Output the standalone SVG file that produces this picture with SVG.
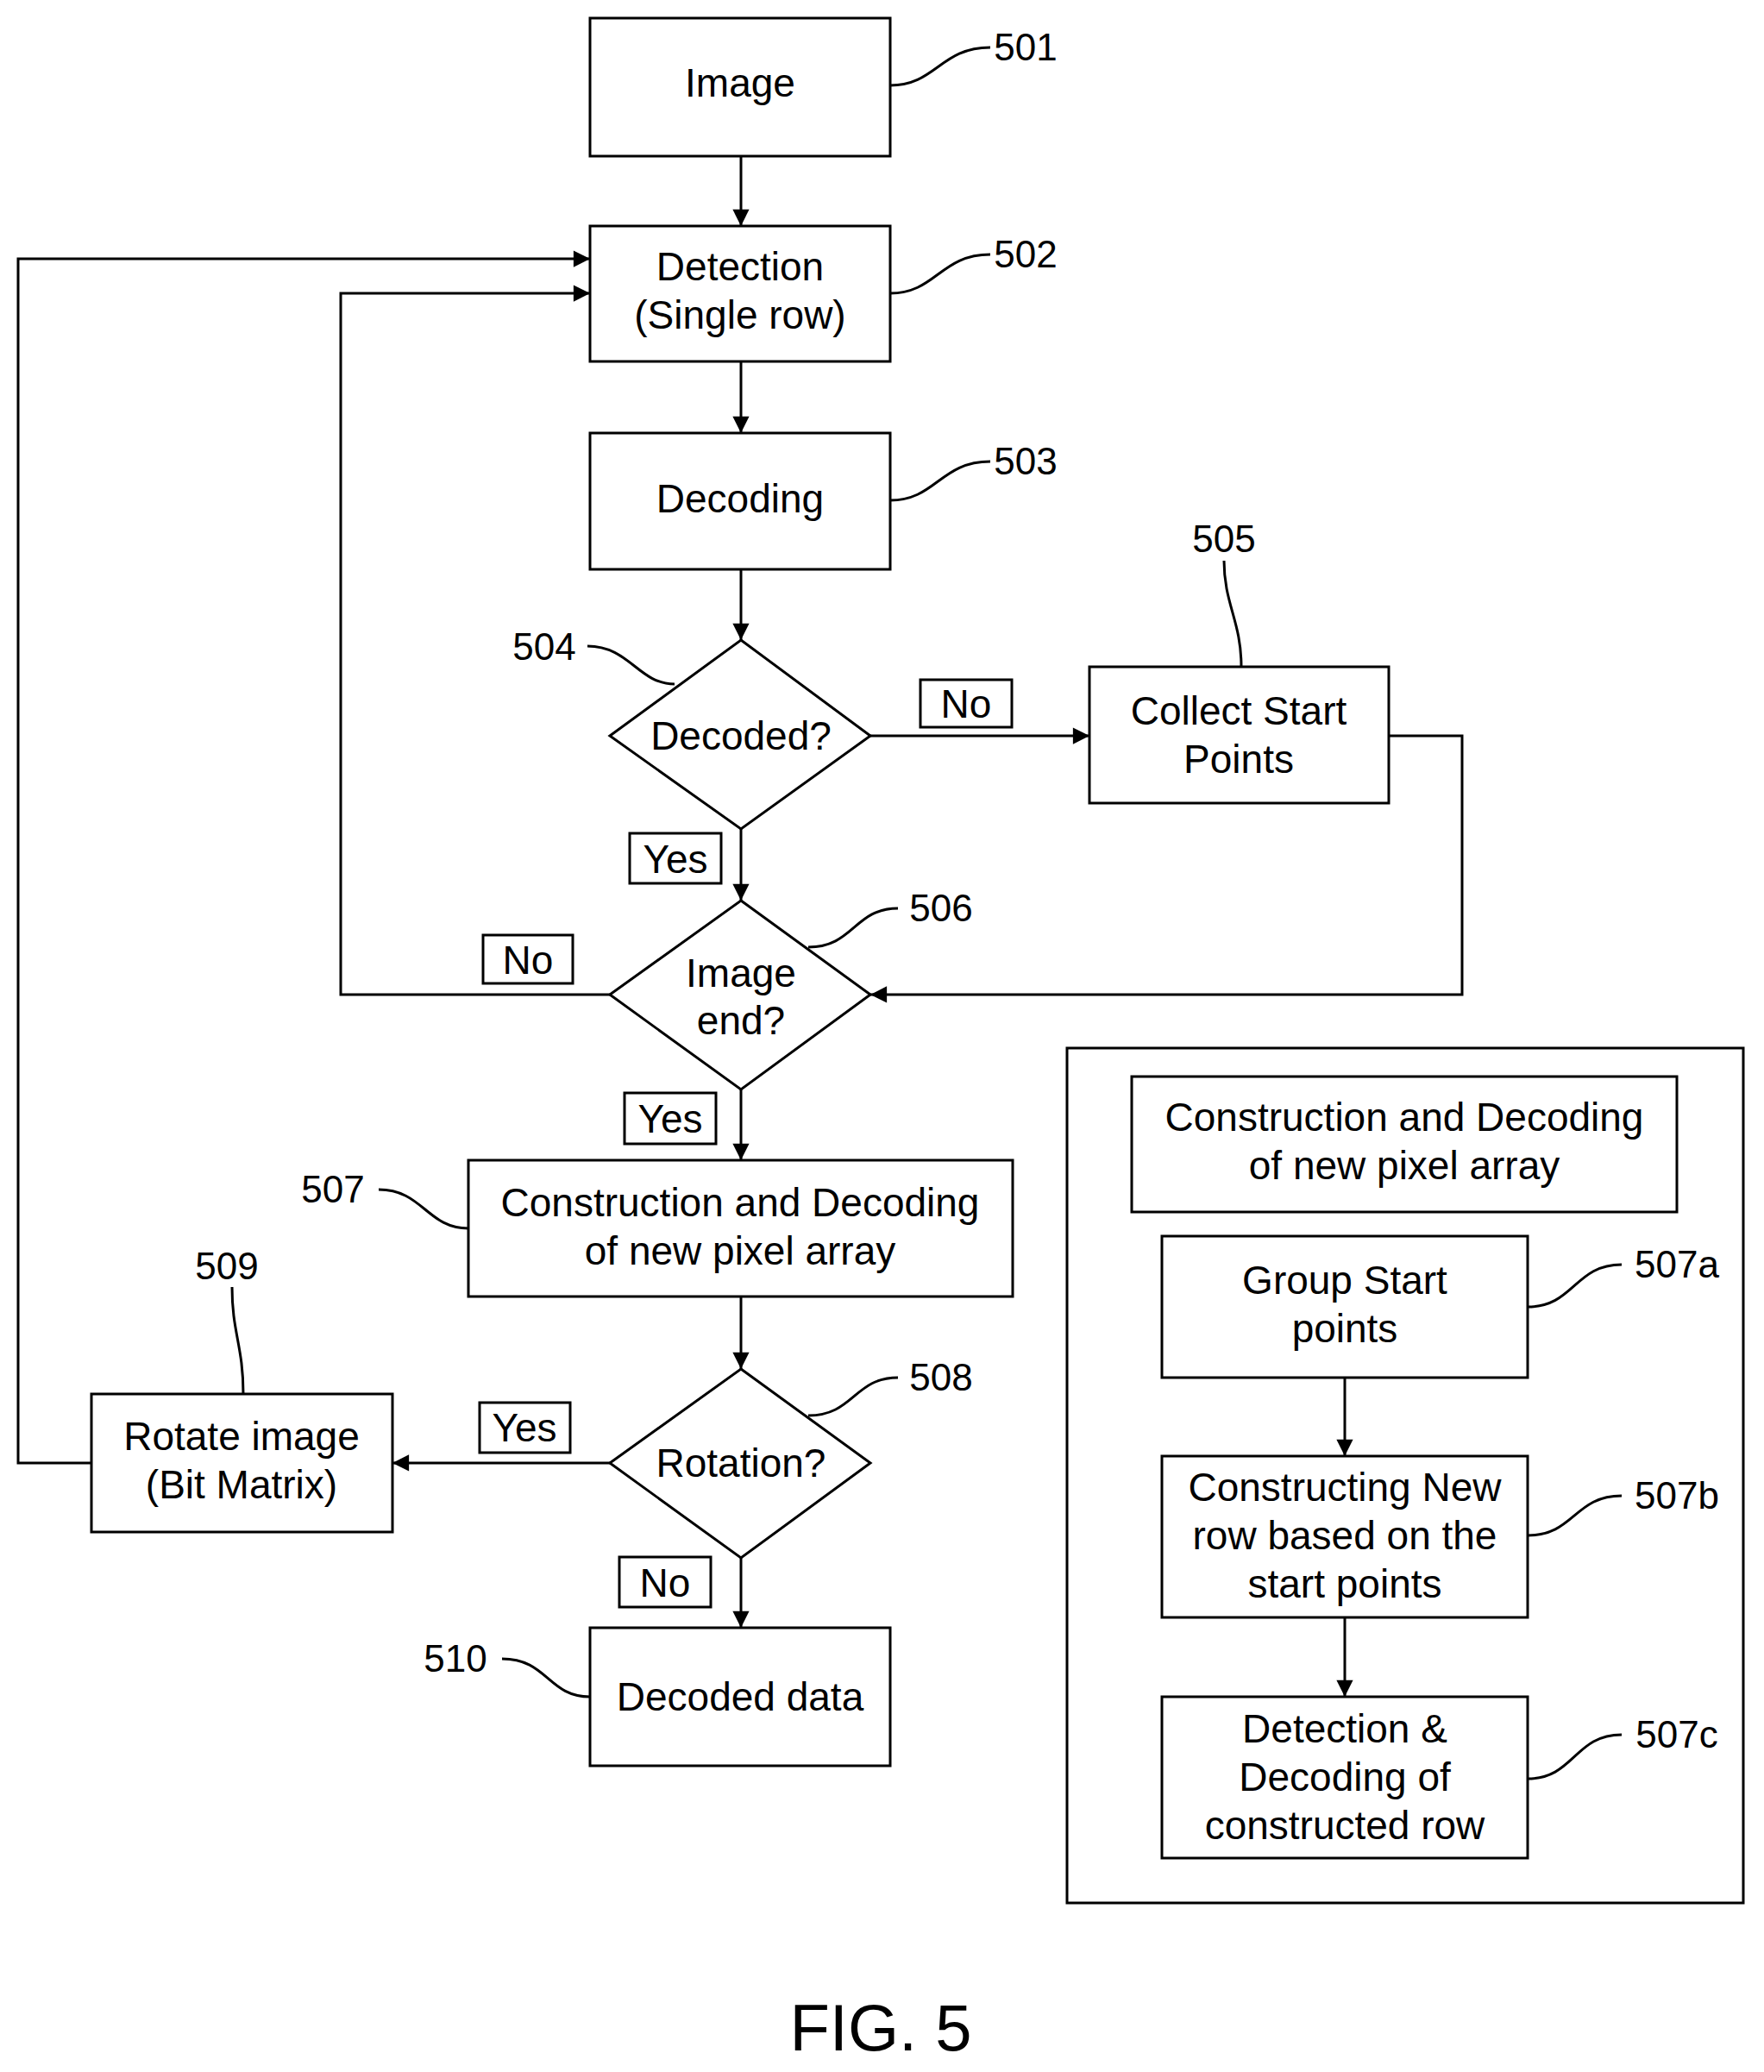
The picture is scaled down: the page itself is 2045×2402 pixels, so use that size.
<svg xmlns="http://www.w3.org/2000/svg" width="2045" height="2402" viewBox="0 0 2045 2402">
<style>
.b{fill:#fff;stroke:#000;stroke-width:3}
.l{fill:none;stroke:#000;stroke-width:3}
.t{font-family:"Liberation Sans",Arial,sans-serif;font-size:46px;text-anchor:middle;fill:#000}
.n{font-family:"Liberation Sans",Arial,sans-serif;font-size:44px;text-anchor:middle;fill:#000}
</style>
<defs><marker id="a" viewBox="0 0 10 10" refX="10" refY="5" markerWidth="8" markerHeight="8" orient="auto" markerUnits="userSpaceOnUse" style="overflow:visible"><path d="M0,0 L10,5 L0,10 z" transform="scale(2.4) translate(-5.8,-2.9)" fill="#000"/></marker></defs>
<rect width="2045" height="2402" fill="#fff"/>
<g id="connectors">
<path class="l" d="M859,181 V262" marker-end="url(#a)"/>
<path class="l" d="M859,419 V502" marker-end="url(#a)"/>
<path class="l" d="M859,660 V742" marker-end="url(#a)"/>
<path class="l" d="M859,961 V1044" marker-end="url(#a)"/>
<path class="l" d="M1009,853 H1263" marker-end="url(#a)"/>
<path class="l" d="M1610,853 H1695 V1153 H1009" marker-end="url(#a)"/>
<path class="l" d="M707,1153 H395 V340 H684" marker-end="url(#a)"/>
<path class="l" d="M859,1263 V1345" marker-end="url(#a)"/>
<path class="l" d="M859,1503 V1587" marker-end="url(#a)"/>
<path class="l" d="M707,1696 H455" marker-end="url(#a)"/>
<path class="l" d="M106,1696 H21 V300 H684" marker-end="url(#a)"/>
<path class="l" d="M859,1806 V1887" marker-end="url(#a)"/>
<path class="l" d="M1559,1597 V1688" marker-end="url(#a)"/>
<path class="l" d="M1559,1875 V1967" marker-end="url(#a)"/>
<g class="l" stroke-width="2">
<path d="M1032,99 C1085,99 1090,55 1148,55"/>
<path d="M1032,340 C1085,340 1090,295 1148,295"/>
<path d="M1032,580 C1085,580 1090,535 1148,535"/>
<path d="M1439,773 C1439,720 1419,700 1419,650"/>
<path d="M681,749 C730,749 740,793 782,793"/>
<path d="M937,1098 C990,1098 990,1053 1041,1053"/>
<path d="M439,1379 C490,1379 495,1424 543,1424"/>
<path d="M282,1616 C282,1560 269,1545 269,1492"/>
<path d="M937,1641 C990,1641 990,1597 1041,1597"/>
<path d="M582,1923 C635,1923 635,1967 684,1967"/>
<path d="M1771,1515 C1825,1515 1825,1466 1880,1466"/>
<path d="M1771,1780 C1825,1780 1825,1734 1880,1734"/>
<path d="M1771,2062 C1825,2062 1825,2011 1880,2011"/>
</g>
</g>
<g id="n501"><rect class="b" x="684" y="21" width="348" height="160"/><text class="t" x="858" y="112">Image</text><text class="n" x="1189" y="70">501</text></g>
<g id="n502"><rect class="b" x="684" y="262" width="348" height="157"/><text class="t" x="858" y="325">Detection</text><text class="t" x="858" y="381">(Single row)</text><text class="n" x="1189" y="310">502</text></g>
<g id="n503"><rect class="b" x="684" y="502" width="348" height="158"/><text class="t" x="858" y="594">Decoding</text><text class="n" x="1189" y="550">503</text></g>
<g id="n504"><polygon class="b" points="859,742 1009,853 859,961 707,853"/><text class="t" x="859" y="869">Decoded?</text><text class="n" x="631" y="765">504</text></g>
<g id="n505"><rect class="b" x="1263" y="773" width="347" height="158"/><text class="t" x="1436" y="840">Collect Start</text><text class="t" x="1436" y="896">Points</text><text class="n" x="1419" y="640">505</text></g>
<g id="n506"><polygon class="b" points="859,1044 1009,1153 859,1263 707,1153"/><text class="t" x="859" y="1144">Image</text><text class="t" x="859" y="1199">end?</text><text class="n" x="1091" y="1068">506</text></g>
<g id="n507"><rect class="b" x="543" y="1345" width="631" height="158"/><text class="t" x="858" y="1410">Construction and Decoding</text><text class="t" x="858" y="1466">of new pixel array</text><text class="n" x="386" y="1394">507</text></g>
<g id="n508"><polygon class="b" points="859,1587 1009,1696 859,1806 707,1696"/><text class="t" x="859" y="1712">Rotation?</text><text class="n" x="1091" y="1612">508</text></g>
<g id="n509"><rect class="b" x="106" y="1616" width="349" height="160"/><text class="t" x="280" y="1681">Rotate image</text><text class="t" x="280" y="1737">(Bit Matrix)</text><text class="n" x="263" y="1483">509</text></g>
<g id="n510"><rect class="b" x="684" y="1887" width="348" height="160"/><text class="t" x="858" y="1983">Decoded data</text><text class="n" x="528" y="1938">510</text></g>
<g id="labels">
<rect class="b" x="1067" y="788" width="106" height="55" stroke-width="2"/><text class="t" x="1120" y="832">No</text>
<rect class="b" x="730" y="966" width="106" height="58" stroke-width="2"/><text class="t" x="783" y="1012">Yes</text>
<rect class="b" x="560" y="1084" width="104" height="56" stroke-width="2"/><text class="t" x="612" y="1129">No</text>
<rect class="b" x="724" y="1267" width="106" height="59" stroke-width="2"/><text class="t" x="777" y="1313">Yes</text>
<rect class="b" x="556" y="1626" width="105" height="58" stroke-width="2"/><text class="t" x="608" y="1671">Yes</text>
<rect class="b" x="718" y="1805" width="106" height="58" stroke-width="2"/><text class="t" x="771" y="1851">No</text>
</g>
<g id="legend">
<rect class="l" x="1237" y="1215" width="784" height="991"/>
<rect class="b" x="1312" y="1248" width="632" height="157"/><text class="t" x="1628" y="1311">Construction and Decoding</text><text class="t" x="1628" y="1367">of new pixel array</text>
</g>
<g id="n507a"><rect class="b" x="1347" y="1433" width="424" height="164"/><text class="t" x="1559" y="1500">Group Start</text><text class="t" x="1559" y="1556">points</text><text class="n" x="1944" y="1481">507a</text></g>
<g id="n507b"><rect class="b" x="1347" y="1688" width="424" height="187"/><text class="t" x="1559" y="1740">Constructing New</text><text class="t" x="1559" y="1796">row based on the</text><text class="t" x="1559" y="1852">start points</text><text class="n" x="1944" y="1749">507b</text></g>
<g id="n507c"><rect class="b" x="1347" y="1967" width="424" height="187"/><text class="t" x="1559" y="2020">Detection &amp;</text><text class="t" x="1559" y="2076">Decoding of</text><text class="t" x="1559" y="2132">constructed row</text><text class="n" x="1944" y="2026">507c</text></g>
<text class="t" x="1021" y="2377" style="font-size:76px">FIG. 5</text>
</svg>
